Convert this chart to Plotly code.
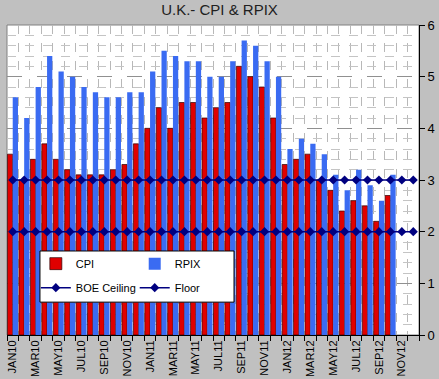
import plotly.graph_objects as go

months = ["JAN", "FEB", "MAR", "APR", "MAY", "JUN", "JUL", "AUG", "SEP", "OCT", "NOV", "DEC"]
categories = [m + y for y in ["10", "11", "12"] for m in months]

cpi = [3.5, 3.0, 3.4, 3.7, 3.4, 3.2, 3.1, 3.1, 3.1, 3.2, 3.3, 3.7,
       4.0, 4.4, 4.0, 4.5, 4.5, 4.2, 4.4, 4.5, 5.2, 5.0, 4.8, 4.2,
       3.3, 3.4, 3.5, 3.0, 2.8, 2.4, 2.6, 2.5, 2.2, 2.7]
rpix = [4.6, 4.2, 4.8, 5.4, 5.1, 5.0, 4.8, 4.7, 4.6, 4.6, 4.7, 4.7,
        5.1, 5.5, 5.4, 5.3, 5.3, 5.0, 5.0, 5.3, 5.7, 5.6, 5.3, 5.0,
        3.6, 3.8, 3.7, 3.5, 3.1, 2.8, 3.2, 2.9, 2.6, 3.1]
boe_ceiling = [3.0] * len(categories)
boe_floor = [2.0] * len(categories)

x_all = list(range(len(categories)))
x_data = x_all[:len(cpi)]
tick_vals = x_all[::2]
tick_text = categories[::2]

fig = go.Figure()
fig.add_trace(go.Bar(x=x_data, y=cpi, name="CPI", marker=dict(color="#e00000", line=dict(color="#300000", width=0.7)),
                     legend="legend", legendgroup="a"))
fig.add_trace(go.Bar(x=x_data, y=rpix, name="RPIX", marker=dict(color="#3a6bf2", line=dict(width=0)),
                     legend="legend2", legendgroup="b"))
fig.add_trace(go.Scatter(x=x_all, y=boe_ceiling, name="BOE Ceiling", mode="lines+markers",
                         line=dict(color="#000080", width=1.5), marker=dict(symbol="diamond", size=7, color="#000080"),
                         legend="legend", legendgroup="c"))
fig.add_trace(go.Scatter(x=x_all, y=boe_floor, name="Floor", mode="lines+markers",
                         line=dict(color="#000080", width=1.5), marker=dict(symbol="diamond", size=7, color="#000080"),
                         legend="legend2", legendgroup="d"))

fig.update_layout(
    width=439, height=379,
    margin=dict(l=7, r=20, t=25, b=44, autoexpand=False),
    paper_bgcolor="#c0c0c0", plot_bgcolor="#ffffff",
    font=dict(family="Liberation Sans, Arial, sans-serif", size=11, color="#000000"),
    title=dict(text="U.K.- CPI & RPIX", x=0.5, xanchor="center", y=0.975, yanchor="middle",
               font=dict(size=15, color="#202020")),
    barmode="group", bargap=0.08, bargroupgap=0,
    showlegend=True,
    legend=dict(x=0.07, y=0.277, xanchor="left", yanchor="top", bgcolor="rgba(0,0,0,0)",
                borderwidth=0, tracegroupgap=5, font=dict(size=11)),
    legend2=dict(x=0.31, y=0.277, xanchor="left", yanchor="top", bgcolor="rgba(0,0,0,0)",
                 borderwidth=0, tracegroupgap=5, font=dict(size=11)),
    xaxis=dict(range=[-0.5, len(categories) - 0.5], tickvals=tick_vals, ticktext=tick_text, tickangle=-90,
               ticks="", showgrid=False, zeroline=False, showline=True, linecolor="#000000", linewidth=1,
               tickfont=dict(size=11), automargin=False,
               minor=dict(tick0=0.5, dtick=1, ticks="outside", ticklen=5, tickcolor="#000000",
                          showgrid=True, gridcolor="#b8b8b8", griddash="dash", gridwidth=1)),
    yaxis=dict(side="right", range=[0, 6], dtick=1, ticks="outside", ticklen=5, tickcolor="#000000",
               showline=True, linecolor="#000000", linewidth=1, zeroline=False,
               showgrid=True, gridcolor="#909090", griddash="longdash", gridwidth=1,
               tickfont=dict(size=13), automargin=False,
               minor=dict(dtick=0.2, showgrid=True, gridcolor="#c4c4c4", griddash="dash", gridwidth=1)),
    shapes=[
        dict(type="rect", xref="paper", yref="paper", x0=0, x1=1, y0=0, y1=1,
             line=dict(color="#808080", width=1), layer="below"),
        dict(type="rect", xref="paper", yref="paper", x0=0.080, x1=0.551, y0=0.106, y1=0.271,
             fillcolor="#ffffff", line=dict(color="#000000", width=1), layer="above"),
    ],
)

fig.write_html("out.html", config={"displayModeBar": False},
               post_script="document.body.style.margin='0';document.body.style.background='#c0c0c0';")
